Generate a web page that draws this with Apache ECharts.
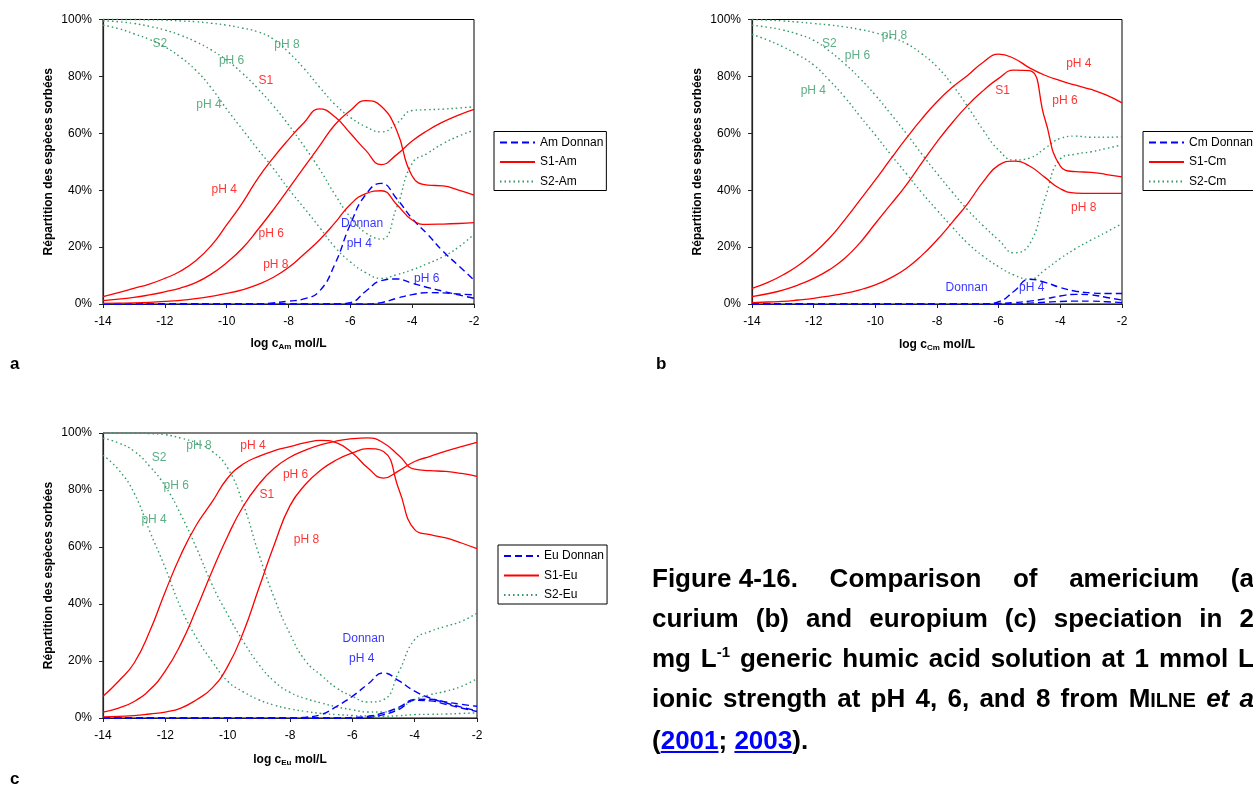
<!DOCTYPE html>
<html>
<head>
<meta charset="utf-8">
<script src="https://cdn.jsdelivr.net/npm/echarts@6/dist/echarts.min.js"></script>
<style>
html,body{margin:0;padding:0;width:1253px;height:785px;overflow:hidden;background:#fff;}
#chart{position:absolute;left:0;top:0;width:1253px;height:785px;}
.cap{position:absolute;left:652px;width:602px;font-family:"Liberation Sans",Arial,sans-serif;font-weight:bold;font-size:26px;line-height:40px;color:#000;}
.just{text-align:justify;text-align-last:justify;}
.cap sup{font-size:15px;line-height:0;vertical-align:10px;}
.sc{font-size:20px;}
.cap a{color:#0000FF;text-decoration:underline;}
</style>
</head>
<body>
<div id="chart"></div>
<div class="cap just" style="top:558px;"><span style="display:inline-block">Figure 4-16.</span> Comparison of americium (a</div>
<div class="cap just" style="top:598px;">curium (b) and europium (c) speciation in 2</div>
<div class="cap just" style="top:638px;">mg L<sup>-1</sup> generic humic acid solution at 1 mmol L</div>
<div class="cap just" style="top:678px;">ionic strength at pH 4, 6, and 8 from M<span class="sc">ILNE</span> <i>et a</i></div>
<div class="cap" style="top:720px;">(<a>2001</a>; <a>2003</a>).</div>
<script>
// ---------------- DATA ----------------
const logC = [-14,-13.5,-13,-12.5,-12,-11.5,-11,-10.5,-10,-9.5,-9,-8.5,-8,-7.5,-7,-6.5,-6,-5.5,-5,-4.5,-4,-3.5,-3,-2.5,-2];
const yTicks = [0,20,40,60,80,100];
const xTicks = [-14,-12,-10,-8,-6,-4,-2];

// Panel a : Americium
const amDonnanPH4 = [0,0,0,0,0,0,0,0,0,0,0,0.4,1.0,1.8,4.5,14,28,38.5,42.4,37,30,24.5,18.5,13.5,8.4];
const amDonnanPH6 = [0,0,0,0,0,0,0,0,0,0,0,0,0,0,0,0,0.5,4.5,8.2,8.8,7.3,5.8,4.5,3.2,2.0];
const amDonnanPH8 = [0,0,0,0,0,0,0,0,0,0,0,0,0,0,0,0,0,0,0.5,2.0,3.3,4.0,3.9,3.5,3.2];
const amS1PH4 = [2.6,4.0,5.5,7.0,9.0,11.5,15.2,20.5,27.8,35.4,44,51.3,57.8,63.7,68.6,65.8,60,54,49,52.5,57.3,61,64,66.4,68.4];
const amS1PH6 = [1.2,1.7,2.3,3.2,4.3,5.6,7.5,10.5,14.5,19.5,26,33,40.5,48,55.5,63,68,71.5,69.5,61,45,41.8,41.5,40,38.3];
const amS1PH8 = [0.2,0.3,0.4,0.6,0.9,1.3,1.9,2.7,3.7,5.0,6.8,9.3,12.8,17.5,22.5,28.5,35,38.8,39.8,35,29.5,28,28.1,28.3,28.6];
const amS2PH4 = [98,96.8,95,93,90.4,86.8,82.2,76,68.5,61.5,54.5,47.8,40.5,33.8,27,20,14.8,11,9,10.3,12,14.2,16.6,20,24.5];
const amS2PH6 = [99.5,99.2,98.6,97.6,96.3,94.5,92.2,89.3,85.7,81.2,75.8,69.8,63,55.5,47.5,38.5,30.5,25,22.8,34,49.4,53,56.4,59,61.1];
const amS2PH8 = [100,100,100,99.9,99.8,99.5,99.2,98.7,98,97,95.7,93.2,88.5,82.8,76.3,70.2,65.6,62.3,60.5,63.5,68,68.3,68.5,68.9,69.3];

// Panel b : Curium
const cmDonnanPH4 = [0,0,0,0,0,0,0,0,0,0,0,0,0,0,0,0,0.8,4.5,8.7,7.6,5.8,4.5,3.9,3.7,3.7];
const cmDonnanPH6 = [0,0,0,0,0,0,0,0,0,0,0,0,0,0,0,0,0.2,0.5,1.0,1.8,2.8,3.4,3.2,2.3,1.4];
const cmDonnanPH8 = [0,0,0,0,0,0,0,0,0,0,0,0,0,0,0,0,0,0,0.3,0.6,0.9,1.0,1.0,0.8,0.5];
const cmS1PH4 = [5.5,7.5,10.2,13.5,17.8,23,29.5,36.5,43.6,51,58.2,65,71.1,76.2,80.4,85,87.8,86.3,83,80.4,78.5,76.9,75.4,73.4,70.7];
const cmS1PH6 = [2.6,3.6,4.9,6.7,9,12,16,21.5,28.3,35,41.8,49.5,57,63.8,69.9,75,79.3,82.2,82,65,48.5,46.5,46.3,45.5,44.7];
const cmS1PH8 = [0.5,0.7,0.9,1.4,2,2.8,3.7,5,6.7,9.2,12.5,17,22.5,28.8,35.4,43,48.8,50.2,48.5,44.5,40.5,39,38.9,38.9,38.9];
const cmS2PH4 = [94.8,92.8,90.4,87.5,84,78.7,72.8,66,59.4,52.5,45.9,39.2,33,27,21.3,16.8,13.1,10.2,8.7,12,16,19.5,22.5,25.3,28.3];
const cmS2PH6 = [98,97.3,96.3,94.8,92.7,89,84.5,79.3,73.4,66.8,60,52.8,45.9,39.3,33,27.5,22.5,18,21,37,51,52.7,53.5,54.7,55.9];
const cmS2PH8 = [100,99.8,99.5,99.1,98.6,98.1,97.4,96.5,95.3,93.7,91.6,88,83.4,77,69.3,61.1,54.1,50.6,51.3,54.7,58.2,59,58.6,58.6,58.8];

// Panel c : Europium
const euDonnanPH4 = [0,0,0,0,0,0,0,0,0,0,0,0,0,0.3,1.2,4.1,7.6,11.9,15.8,13,9.4,7,5.3,3.8,2.5];
const euDonnanPH6 = [0,0,0,0,0,0,0,0,0,0,0,0,0,0,0,0,0.2,0.6,1.8,3.8,6.5,6.6,5.6,4.8,4.1];
const euDonnanPH8 = [0,0,0,0,0,0,0,0,0,0,0,0,0,0,0,0,0,0.2,1.2,3.0,6.2,6.0,4.8,3.5,2.3];
const euS1PH4 = [7.6,12.9,19.3,30.4,44.4,57.3,67.8,75.8,84.2,89.1,91.8,93.8,95.2,96.6,97.4,96.5,93,87.7,84.2,86.8,90,91.8,93.6,95.2,96.7];
const euS1PH6 = [2.1,3.5,5.8,9.9,16.5,26,38.3,51.5,63.8,74.3,82,87.7,91.5,94,95.9,97.2,98,98.3,96.5,92,87.3,86.8,86.5,85.8,84.8];
const euS1PH8 = [0.4,0.6,0.8,1.4,2.1,3.5,6.4,10.5,18.1,30,45.5,61,74.5,82,87.1,90.6,93,94.5,93.5,80,66.1,64.3,63.2,61.4,59.4];
const euS2PH4 = [92.2,87.1,78.9,65.5,52.6,38.6,28.1,19.9,12.9,9.2,6.4,4.5,3.2,2.3,1.6,1.2,0.9,0.7,0.6,0.8,1.2,1.3,1.4,1.6,1.8];
const euS2PH6 = [98.2,96.5,93.6,88.3,81.3,71.3,59.6,46.8,36.3,26.9,18.8,12.8,9,6.8,5.3,3.9,2.9,2.1,2.1,3.5,6.4,8.2,9.4,11.1,13.8];
const euS2PH8 = [100,100,100,99.8,99.4,98.2,96.5,93.6,87.7,75,57.5,42,29.5,20,15,10.5,7.6,5.6,6.4,16.4,27.5,30.4,32.2,33.9,36.8];

// In-plot annotations: [log c, %, text, kind]
const amNotes = [[-12.16,91.6,'S2','s2'],[-9.84,85.5,'pH 6','s2'],[-8.05,91.3,'pH 8','s2'],[-8.73,78.4,'S1','s1'],[-10.57,69.9,'pH 4','s2'],
  [-10.08,40.3,'pH 4','s1'],[-8.56,24.6,'pH 6','s1'],[-8.41,13.9,'pH 8','s1'],[-5.62,28.2,'Donnan','d'],[-5.71,21.1,'pH 4','d'],[-3.53,8.9,'pH 6','d']];
const cmNotes = [[-9.38,94.2,'pH 8','s2'],[-11.49,91.6,'S2','s2'],[-10.58,87.2,'pH 6','s2'],[-12.01,74.9,'pH 4','s2'],[-5.87,74.9,'S1','s1'],
  [-3.4,84.3,'pH 4','s1'],[-3.85,71.3,'pH 6','s1'],[-3.24,33.7,'pH 8','s1'],[-7.04,5.7,'Donnan','d'],[-4.93,5.7,'pH 4','d']];
const euNotes = [[-10.92,95.6,'pH 8','s2'],[-12.2,91.2,'S2','s2'],[-11.65,81.5,'pH 6','s2'],[-12.36,69.6,'pH 4','s2'],[-9.19,95.6,'pH 4','s1'],
  [-7.82,85.4,'pH 6','s1'],[-8.74,78.4,'S1','s1'],[-7.47,62.6,'pH 8','s1'],[-5.64,27.9,'Donnan','d'],[-5.7,20.8,'pH 4','d']];

const yName = 'Répartition des espèces sorbées';
// ---------------- CHART ----------------
const FONT = '"Liberation Sans", Arial, sans-serif';
const COL = {d:'#0000FF', s1:'#FF0000', s2:'#339966'};
const pts = ys => logC.map((x,i)=>[x, ys[i]]);

const panels = [
  {el:'Am', grid:{left:103, top:19.5, width:371, height:284.5}, legend:{left:494, top:131.5}, nameGap:33,
   don:[amDonnanPH4,amDonnanPH6,amDonnanPH8], s1:[amS1PH4,amS1PH6,amS1PH8], s2:[amS2PH4,amS2PH6,amS2PH8], notes:amNotes},
  {el:'Cm', grid:{left:752, top:19.5, width:370, height:284.5}, legend:{left:1143, top:131.5}, nameGap:34,
   don:[cmDonnanPH4,cmDonnanPH6,cmDonnanPH8], s1:[cmS1PH4,cmS1PH6,cmS1PH8], s2:[cmS2PH4,cmS2PH6,cmS2PH8], notes:cmNotes},
  {el:'Eu', grid:{left:103, top:433, width:374, height:285}, legend:{left:498, top:545}, nameGap:35,
   don:[euDonnanPH4,euDonnanPH6,euDonnanPH8], s1:[euS1PH4,euS1PH6,euS1PH8], s2:[euS2PH4,euS2PH6,euS2PH8], notes:euNotes}
];

const grids=[], xAxes=[], yAxes=[], legends=[], series=[];
panels.forEach((p,i)=>{
  grids.push(Object.assign({show:true, borderColor:'#000', borderWidth:1, outerBoundsMode:'none', containLabel:false}, p.grid));
  xAxes.push({gridIndex:i, type:'value', min:xTicks[0], max:xTicks[xTicks.length-1], interval:xTicks[1]-xTicks[0],
    axisLine:{show:true, onZero:false, lineStyle:{color:'#222', width:1.2}},
    axisTick:{show:true, length:4, lineStyle:{color:'#222'}},
    axisLabel:{fontSize:12, color:'#000', margin:12, fontFamily:FONT},
    splitLine:{show:false},
    name:'{b|log c}{s|'+p.el+'}{b| mol/L}', nameLocation:'middle', nameGap:p.nameGap,
    nameTextStyle:{rich:{b:{fontSize:12, fontWeight:'bold', fontFamily:FONT, color:'#000', lineHeight:14},
                         s:{fontSize:8, fontWeight:'bold', fontFamily:FONT, color:'#000', lineHeight:14, padding:[5,0,0,0]}}}
  });
  yAxes.push({gridIndex:i, type:'value', min:yTicks[0], max:yTicks[yTicks.length-1], interval:yTicks[1]-yTicks[0],
    axisLine:{show:true, lineStyle:{color:'#222', width:1.2}},
    axisTick:{show:true, length:4, lineStyle:{color:'#222'}},
    axisLabel:{fontSize:12, color:'#000', margin:11, fontFamily:FONT, formatter:'{value}%'},
    splitLine:{show:false},
    name:yName, nameLocation:'middle', nameGap:48,
    nameTextStyle:{fontSize:12, fontWeight:'bold', fontFamily:FONT, color:'#000'}
  });
  const nD = p.el+' Donnan', n1 = 'S1-'+p.el, n2 = 'S2-'+p.el;
  legends.push({orient:'vertical', left:p.legend.left, top:p.legend.top, itemWidth:35, itemHeight:12, itemGap:7.5,
    padding:[5,3,3,5], borderColor:'#000', borderWidth:1, backgroundColor:'#fff', selectedMode:false,
    itemStyle:{opacity:0, color:'rgba(0,0,0,0)', borderWidth:0},
    textStyle:{fontSize:12, color:'#000', fontFamily:FONT}, data:[nD,n1,n2]});
  const common = {type:'line', xAxisIndex:i, yAxisIndex:i, symbol:'none', showSymbol:false, smooth:0.5, clip:false, animation:false};
  p.don.forEach(d=>series.push(Object.assign({}, common, {name:nD, data:pts(d), z:3,
    lineStyle:{color:COL.d, width:1.4, type:[7,4]}, itemStyle:{color:COL.d}})));
  p.s1.forEach(d=>series.push(Object.assign({}, common, {name:n1, data:pts(d), z:4,
    lineStyle:{color:COL.s1, width:1.3, type:'solid'}, itemStyle:{color:COL.s1}})));
  p.s2.forEach(d=>series.push(Object.assign({}, common, {name:n2, data:pts(d), z:2,
    lineStyle:{color:COL.s2, width:1.4, type:[1.5,3]}, itemStyle:{color:COL.s2}})));
  series.push({type:'scatter', name:'notes-'+p.el, xAxisIndex:i, yAxisIndex:i, symbolSize:1, silent:true, z:6,
    itemStyle:{color:'rgba(0,0,0,0)'}, animation:false,
    label:{show:true, position:'inside', fontSize:12, fontFamily:FONT, formatter:'{b}'},
    data:p.notes.map(n=>({name:n[2], value:[n[0],n[1]], label:{color:COL[n[3]]}}))});
});

const chart = echarts.init(document.getElementById('chart'));
chart.setOption({
  animation:false,
  backgroundColor:'#fff',
  grid:grids, xAxis:xAxes, yAxis:yAxes, legend:legends, series:series,
  graphic:[
    {type:'text', left:10, top:356, style:{text:'a', fontSize:17, fontWeight:'bold', fontFamily:FONT, fill:'#000'}},
    {type:'text', left:656, top:356, style:{text:'b', fontSize:17, fontWeight:'bold', fontFamily:FONT, fill:'#000'}},
    {type:'text', left:10, top:771, style:{text:'c', fontSize:17, fontWeight:'bold', fontFamily:FONT, fill:'#000'}}
  ]
});
</script>
</body>
</html>
